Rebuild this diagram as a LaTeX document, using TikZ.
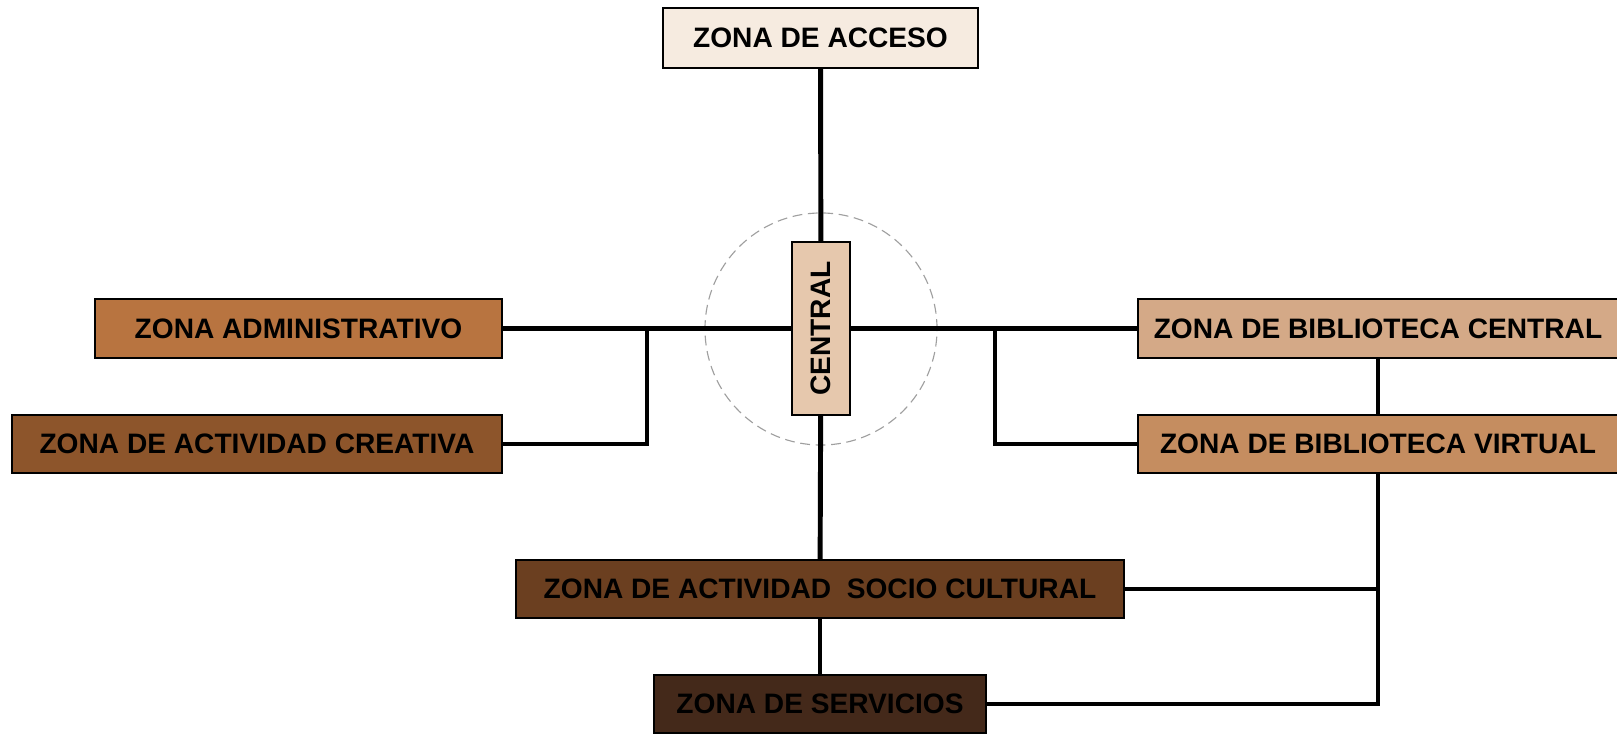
\documentclass[tikz,border=0pt]{standalone}
\usepackage{fontspec}
\setmainfont{Liberation Sans}
\usepackage{tikz}
\usetikzlibrary{positioning,calc}
\usepackage{xcolor}
\definecolor{zacceso}{RGB}{246,235,224}
\definecolor{zcentral}{RGB}{230,200,173}
\definecolor{zadmin}{RGB}{184,116,64}
\definecolor{zcreativa}{RGB}{141,85,43}
\definecolor{zbibcen}{RGB}{212,169,135}
\definecolor{zbibvir}{RGB}{197,141,96}
\definecolor{zsocio}{RGB}{107,63,32}
\definecolor{zservi}{RGB}{68,41,26}

\begin{document}
\begin{tikzpicture}[x=0.025cm,y=-0.025cm,
    zone/.style={rectangle,draw,line width=1.4pt,inner sep=0pt,minimum height=1.475cm,
      font=\fontsize{20}{24}\selectfont\bfseries},
    link/.style={line width=3.5pt},
    ring/.style={circle,draw=gray!75,line width=0.8pt,dash pattern=on 7pt off 4pt,minimum size=5.8cm}]
    \useasboundingbox (0,0) rectangle (1617,734);
    \node[ring] (RING) at (821,329) {};
    \node[zone,fill=zacceso,minimum width=7.875cm,minimum height=1.5cm] (ACC) at (820.5,38) {ZONA DE ACCESO};
    \node[zone,fill=zcentral,minimum width=1.45cm,minimum height=4.325cm] (CEN) at (821,328.5) {\rotatebox{90}{CENTRAL}};
    \node[zone,fill=zadmin,minimum width=10.175cm] (ADM) at (298.5,328.5) {ZONA ADMINISTRATIVO};
    \node[zone,fill=zcreativa,minimum width=12.25cm,minimum height=1.45cm] (CRE) at (257,444) {ZONA DE ACTIVIDAD CREATIVA};
    \node[zone,fill=zbibcen,minimum width=12cm] (BIBC) at (1378,328.5) {ZONA DE BIBLIOTECA CENTRAL};
    \node[zone,fill=zbibvir,minimum width=12cm,minimum height=1.45cm] (BIBV) at (1378,444) {ZONA DE BIBLIOTECA VIRTUAL};
    \node[zone,fill=zsocio,minimum width=15.2cm,minimum height=1.45cm] (SOC) at (820,589) {ZONA DE ACTIVIDAD\ \ SOCIO CULTURAL};
    \node[zone,fill=zservi,minimum width=8.3cm,minimum height=1.45cm] (SER) at (820,704) {ZONA DE SERVICIOS};
    \coordinate (JL) at (647,328.5);
    \coordinate (JR) at (995,328.5);
    \draw[link] (ACC) -- (CEN);
    \draw[link] (CEN) -- (SOC);
    \draw[link] (SOC) -- (SER);
    \draw[link] (ADM.east) -- (CEN.west);
    \draw[link] (CEN.east) -- (BIBC.west);
    \draw[link] (CRE.east) -| (JL);
    \draw[link] (BIBV.west) -| (JR);
    \draw[link] (BIBC) -- (BIBV);
    \draw[link] (BIBV.south) |- (SER.east);
    \draw[link] (SOC.east) -- (SOC.east -| BIBV.south);
  \end{tikzpicture}
\end{document}
